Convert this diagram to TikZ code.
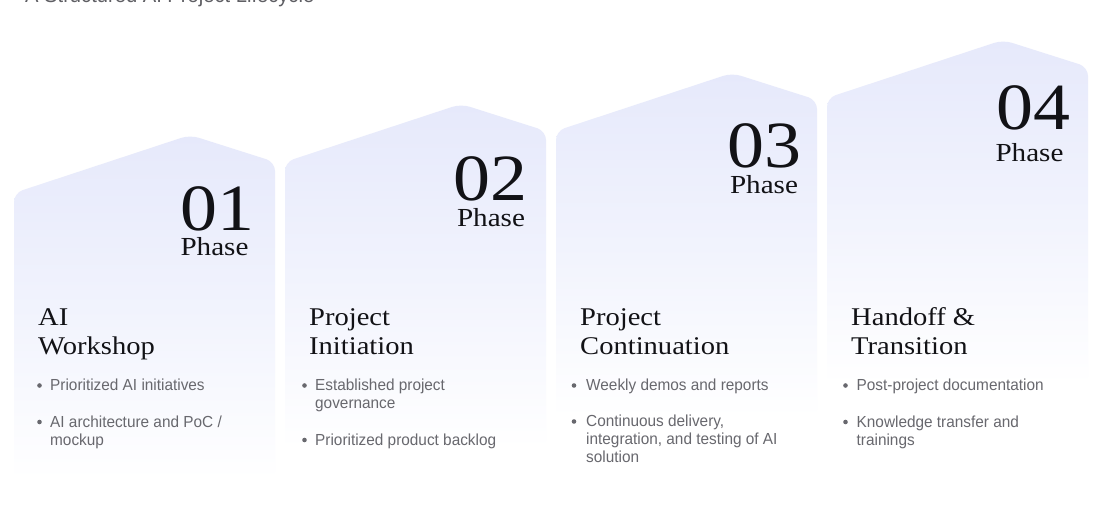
\documentclass[tikz,border=0pt]{standalone}
\usepackage{fontspec}
\newfontfamily\phserif[FakeStretch=1.12]{Liberation Serif}
\newfontfamily\phsans[FakeStretch=0.96]{Liberation Sans}
\definecolor{lavtop}{RGB}{230,233,251}
\definecolor{lavmid}{RGB}{241,243,253}
\definecolor{bulletgray}{RGB}{104,104,110}
\definecolor{titleblack}{RGB}{18,18,22}
\definecolor{headgray}{RGB}{95,95,100}
\newcommand\phaseshape[2]{%
  \shade[top color=lavtop, bottom color=white, middle color=lavmid, rounded corners=9pt]
    (#1+130,#2+345) -- (#1,#2+345) -- (#1,#2+58) -- (#1+176,#2) -- (#1+261,#2+27) -- (#1+261,#2+345) -- cycle;}
\newcommand\bline[4]{\node[bullettext] (#1) at (#2,#3) {#4};}
\newcommand\bdot[3]{\fill[bulletgray] (#2,#3) circle[radius=2.3] coordinate (#1);}
\tikzset{
  numstyle/.style={inner sep=0pt, anchor=base, text=titleblack, font=\phserif\fontsize{66}{66}\selectfont},
  phasestyle/.style={inner sep=0pt, anchor=base, text=titleblack, font=\phserif\fontsize{26}{26}\selectfont},
  titlestyle/.style={inner sep=0pt, anchor=base west, text=titleblack, font=\phserif\fontsize{25.5}{25.5}\selectfont},
  bullettext/.style={inner sep=0pt, anchor=base west, text=bulletgray, font=\phsans\fontsize{16}{16}\selectfont},
}
\begin{document}
\begin{tikzpicture}[x=1pt,y=-1pt]
\fill[white] (0,0) rectangle (1112,515);
\useasboundingbox (0,0) rectangle (1112,515);
% header (cut at top edge)
\node[inner sep=0pt, anchor=base west, text=headgray, font=\phsans\fontsize{21}{21}\selectfont] (head) at (25,2.5) {A Structured AI Project Lifecycle};
% shapes
\phaseshape{14}{135}
\phaseshape{285}{104}
\phaseshape{556}{73}
\phaseshape{827}{40}
% numbers and Phase labels
\node[numstyle] (n1) at (217,230) {01};
\node[phasestyle] (p1) at (214.5,255) {Phase};
\node[numstyle] (n2) at (490.5,200) {02};
\node[phasestyle] (p2) at (491,226) {Phase};
\node[numstyle] (n3) at (764,167) {03};
\node[phasestyle] (p3) at (764,193) {Phase};
\node[numstyle] (n4) at (1033,129) {04};
\node[phasestyle] (p4) at (1029.5,161) {Phase};
% titles
\node[titlestyle] (t1a) at (38,325) {AI};
\node[titlestyle] (t1b) at (38,354) {Workshop};
\node[titlestyle] (t2a) at (309,325) {Project};
\node[titlestyle] (t2b) at (309,354) {Initiation};
\node[titlestyle] (t3a) at (580,325) {Project};
\node[titlestyle] (t3b) at (580,354) {Continuation};
\node[titlestyle] (t4a) at (851,325) {Handoff \&};
\node[titlestyle] (t4b) at (851,354) {Transition};
% column 1 bullets
\bdot{d11}{39.5}{385.5}
\bline{b11}{50}{390}{Prioritized AI initiatives}
\bdot{d12}{39.5}{422}
\bline{b12a}{50}{427}{AI architecture and PoC /}
\bline{b12b}{50}{445}{mockup}
% column 2 bullets
\bdot{d21}{304.5}{385.5}
\bline{b21a}{315}{390}{Established project}
\bline{b21b}{315}{408}{governance}
\bdot{d22}{304.5}{440}
\bline{b22}{315}{445}{Prioritized product backlog}
% column 3 bullets
\bdot{d31}{574}{385.5}
\bline{b31}{586}{390}{Weekly demos and reports}
\bdot{d32}{574}{421.5}
\bline{b32a}{586}{426.5}{Continuous delivery,}
\bline{b32b}{586}{444}{integration, and testing of AI}
\bline{b32c}{586}{462}{solution}
% column 4 bullets
\bdot{d41}{845.5}{385.5}
\bline{b41}{856.5}{390}{Post-project documentation}
\bdot{d42}{845.5}{422}
\bline{b42a}{856.5}{427}{Knowledge transfer and}
\bline{b42b}{856.5}{445}{trainings}
\end{tikzpicture}
\end{document}
